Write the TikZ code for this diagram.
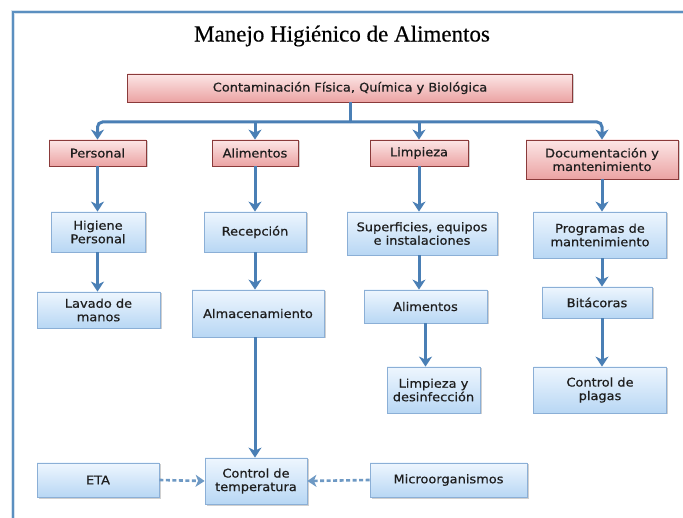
\documentclass[tikz,border=0pt]{standalone}
\usepackage{fontspec}
\setmainfont{DejaVu Sans}[FakeStretch=1.08,FakeBold=0.6]
\newfontfamily\titlefont{Liberation Serif}[FakeBold=0.4]
\usetikzlibrary{arrows.meta,shadows}
\definecolor{arrowblue}{HTML}{4A7FB5}
\definecolor{framblue}{HTML}{5B8FC0}
\definecolor{pinktop}{HTML}{FCE6E6}
\definecolor{pinkbot}{HTML}{EBA3A3}
\definecolor{pinkedge}{HTML}{8A3A3A}
\definecolor{bluetop}{HTML}{EEF6FE}
\definecolor{bluebot}{HTML}{B8D7F4}
\definecolor{blueedge}{HTML}{8BAFD6}
\definecolor{txt}{HTML}{1E1E1E}
\begin{document}
\begin{tikzpicture}[x=1pt,y=-1pt,
 box/.style={inner sep=0pt, align=center, font=\fontsize{12}{13.5}\selectfont, text=txt, line width=0.8pt,
   drop shadow={shadow xshift=1.5pt,shadow yshift=-1.5pt,opacity=0.3,fill=black!60}},
 pinkbox/.style={box, draw=pinkedge, top color=pinktop, bottom color=pinkbot},
 bluebox/.style={box, draw=blueedge, top color=bluetop, bottom color=bluebot},
 sz/.style 2 args={minimum width=#1pt, minimum height=#2pt},
 conn/.style={draw=arrowblue, line width=3pt},
 arr/.style={conn, -{Stealth[width=13pt,length=10pt,inset=3pt]}},
 darr/.style={draw=arrowblue!80, line width=2.6pt, dash pattern=on 4pt off 2.5pt, -{Stealth[width=12pt,length=9pt,inset=2.5pt]}},
 ]
\fill[white] (0,0) rectangle (683,518);
\useasboundingbox (0,0) rectangle (683,518);
\draw[framblue!25, line width=4.5pt] (13,518) -- (13,12) -- (683,12);
\draw[framblue, line width=2.2pt] (13,518) -- (13,12) -- (683,12);

\node[font=\titlefont\fontsize{23}{26}\selectfont, text=black] (title) at (342,36) {Manejo Higiénico de Alimentos};

\node[pinkbox, sz={445}{28}] (top) at (350,88) {Contaminación Física, Química y Biológica};
\node[pinkbox, sz={97}{26}] (per) at (97.5,153) {Personal};
\node[pinkbox, sz={86}{26}] (ali) at (255,153) {Alimentos};
\node[pinkbox, sz={98}{26}] (lim) at (419,153) {Limpieza};
\node[pinkbox, sz={152}{39}] (doc) at (602,159.5) {Documentación y\\mantenimiento};

\node[bluebox, sz={94}{40}] (hig) at (98,232) {Higiene\\Personal};
\node[bluebox, sz={123}{36}] (lav) at (98.5,310) {Lavado de\\manos};
\node[bluebox, sz={102}{40}] (rec) at (255,232) {Recepción};
\node[bluebox, sz={132}{47}] (alm) at (258,313.5) {Almacenamiento};
\node[bluebox, sz={102}{46}] (ctemp) at (256,481) {Control de\\temperatura};
\node[bluebox, sz={122}{34}] (eta) at (98,480) {ETA};
\node[bluebox, sz={157}{34}] (micro) at (448.5,480) {Microorganismos};
\node[bluebox, sz={150}{43}] (sup) at (422,233.5) {Superficies, equipos\\e instalaciones};
\node[bluebox, sz={123}{33}] (ali2) at (425.5,306.5) {Alimentos};
\node[bluebox, sz={93}{46}] (ld) at (433.5,390) {Limpieza y\\desinfección};
\node[bluebox, sz={133}{46}] (prog) at (600,235) {Programas de\\mantenimiento};
\node[bluebox, sz={110}{31}] (bit) at (597,302.5) {Bitácoras};
\node[bluebox, sz={133}{46}] (cpl) at (600,390) {Control de\\plagas};

\coordinate (bus) at (350,122);
\draw[conn] (top.south) -- (bus);
\draw[arr, rounded corners=5pt] (bus) -| (per.north);
\draw[arr, rounded corners=5pt] (bus) -| (doc.north);
\draw[arr] (ali.north |- bus) -- (ali.north);
\draw[arr] (lim.north |- bus) -- (lim.north);

\draw[arr] (per.south) -- (per.south |- hig.north);
\draw[arr] (per.south |- hig.south) -- (per.south |- lav.north);
\draw[arr] (ali.south) -- (ali.south |- rec.north);
\draw[arr] (ali.south |- rec.south) -- (ali.south |- alm.north);
\draw[arr] (ali.south |- alm.south) -- (ali.south |- ctemp.north);
\draw[arr] (lim.south) -- (lim.south |- sup.north);
\draw[arr] (lim.south |- sup.south) -- (lim.south |- ali2.north);
\draw[arr] (ali2.south) -- (ali2.south |- ld.north);
\draw[arr] (doc.south) -- (doc.south |- prog.north);
\draw[arr] (doc.south |- prog.south) -- (doc.south |- bit.north);
\draw[arr] (doc.south |- bit.south) -- (doc.south |- cpl.north);
\draw[darr] (eta.east) -- (ctemp.west);
\draw[darr] (micro.west) -- (ctemp.east);
\end{tikzpicture}
\end{document}
